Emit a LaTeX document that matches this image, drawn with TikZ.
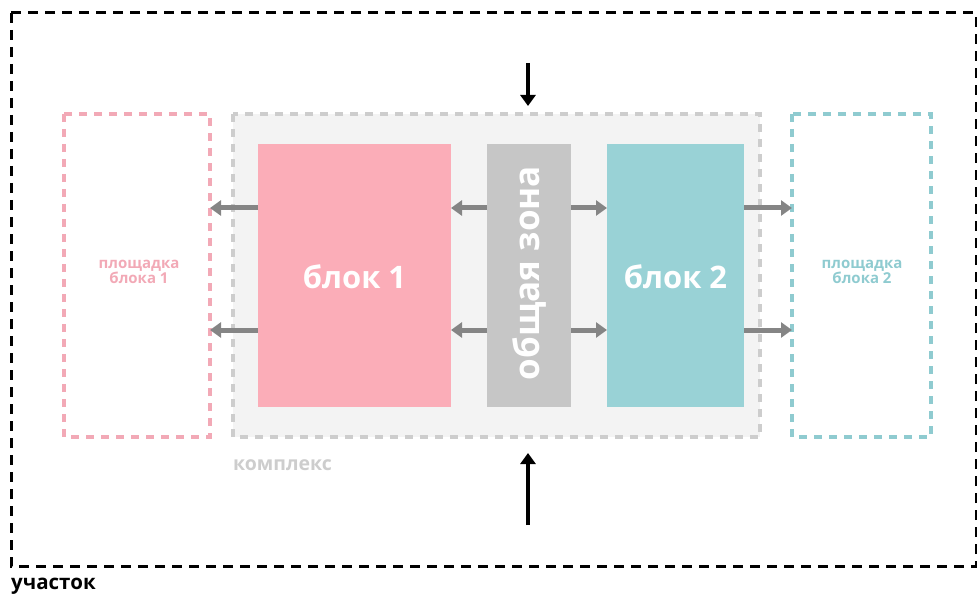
\documentclass[tikz,border=0pt]{standalone}
\usepackage{fontspec}
\setmainfont{Open Sans}
\usetikzlibrary{arrows.meta}
\definecolor{pinkc}{HTML}{FBADB8}
\definecolor{pinkd}{HTML}{F2A9B6}
\definecolor{tealc}{HTML}{99D2D6}
\definecolor{teald}{HTML}{8FCBD0}
\definecolor{zonec}{HTML}{C6C6C6}
\definecolor{cplxf}{HTML}{F3F3F3}
\definecolor{cplxd}{HTML}{CDCDCD}
\definecolor{arrg}{HTML}{858585}
\begin{document}
\begin{tikzpicture}[x=1pt,y=-1pt,
  dashbox/.style={line width=3.2pt,dash pattern=on 8pt off 7pt},
  garrow/.style={draw=arrg,line width=5pt,-{Triangle[length=11pt,width=15pt]}},
  barrow/.style={draw=black,line width=3.4pt,-{Triangle[length=11pt,width=15pt]}},
  btext/.style={text=white,font=\bfseries\fontsize{31}{33}\selectfont},
  ptext/.style={font=\bfseries\fontsize{15}{18}\selectfont,align=center}]
\useasboundingbox (0,0) rectangle (977,596);
% outer plot
\draw[line width=3pt,dash pattern=on 10pt off 7pt] (11,13) rectangle (976,566);
\node[anchor=base west,inner sep=0pt,font=\bfseries\fontsize{20.5}{22}\selectfont] (uch) at (11,589) {участок};
% complex
\fill[cplxf] (233,114) rectangle (760,437);
\draw[cplxd,dashbox] (233,114) rectangle (760,437);
\node[anchor=base west,inner sep=0pt,text=cplxd,font=\bfseries\fontsize{19.5}{21}\selectfont] (kompl) at (233,470) {комплекс};
% sites
\draw[pinkd,dashbox] (64,114) rectangle (210,437);
\draw[teald,dashbox] (792,114) rectangle (931,437);
\node[ptext,text=pinkd] (p1) at (139,272) {площадка\\[-3pt]блока 1};
\node[ptext,text=teald] (p2) at (862,272) {площадка\\[-3pt]блока 2};
\coordinate (s1a) at (210,208);
\coordinate (s1b) at (210,330);
\coordinate (s2a) at (792,208);
\coordinate (s2b) at (792,330);
% blocks
\fill[pinkc] (258,144) rectangle (451,407);
\fill[zonec] (487,144) rectangle (571,407);
\fill[tealc] (607,144) rectangle (744,407);
\node[btext] (b1) at (354.5,277) {блок 1};
\node[btext] (b2) at (675.5,277) {блок 2};
\node[btext,rotate=90,font=\bfseries\fontsize{35}{37}\selectfont] (zone) at (529,273) {общая зона};
\coordinate (b1l1) at (258,208); \coordinate (b1l2) at (258,330);
\coordinate (b1r1) at (451,208); \coordinate (b1r2) at (451,330);
\coordinate (zl1) at (487,208); \coordinate (zl2) at (487,330);
\coordinate (zr1) at (571,208); \coordinate (zr2) at (571,330);
\coordinate (b2l1) at (607,208); \coordinate (b2l2) at (607,330);
\coordinate (b2r1) at (744,208); \coordinate (b2r2) at (744,330);
% grey arrows
\draw[garrow] (b1l1) -- (s1a);
\draw[garrow] (b1l2) -- (s1b);
\draw[garrow] (zl1) -- (b1r1);
\draw[garrow] (zl2) -- (b1r2);
\draw[garrow] (zr1) -- (b2l1);
\draw[garrow] (zr2) -- (b2l2);
\draw[garrow] (b2r1) -- (s2a);
\draw[garrow] (b2r2) -- (s2b);
% black arrows
\coordinate (tin0) at (528,63);
\coordinate (tin1) at (528,106);
\coordinate (bin0) at (528,525);
\coordinate (bin1) at (528,453);
\draw[barrow] (tin0) -- (tin1);
\draw[barrow] (bin0) -- (bin1);
\end{tikzpicture}
\end{document}
